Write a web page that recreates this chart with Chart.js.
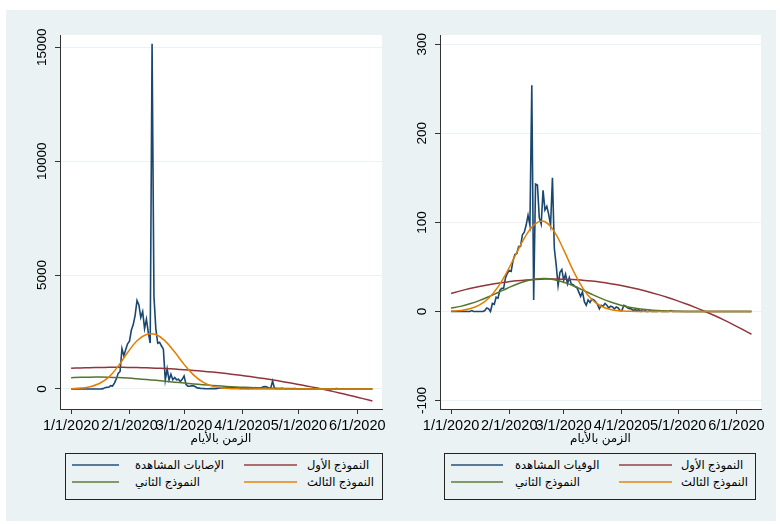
<!DOCTYPE html>
<html>
<head>
<meta charset="utf-8">
<script src="https://cdn.jsdelivr.net/npm/chart.js@4.4.1/dist/chart.umd.min.js"></script>
<style>
  body { margin: 0; width: 780px; height: 524px; background: #fff; position: relative; overflow: hidden;
         font-family: 'Liberation Sans', 'DejaVu Sans', sans-serif; }
  #bg { position: absolute; left: 6px; top: 10px; width: 770px; height: 511px; background: #eaf2f3; }
  canvas { position: absolute; top: 10px; }
  #chartL { left: 6px; }
  #chartR { left: 390px; }
  .legend { position: absolute; top: 453px; height: 47px; border: 1px solid #222; box-sizing: border-box; }
  #legL { left: 65px; width: 318px; }
  #legR { left: 444px; width: 312px; }
  .key { position: absolute; height: 0; border-top: 2px solid; opacity: 0.7; }
  .txt { position: absolute; font-size: 11.5px; line-height: 14px; white-space: nowrap; color: #000; }
  .r1 .key { top: 10px; } .r1.txt { top: 4px; }
  .r2 .key { top: 27px; } .r2.txt { top: 21px; }
  #legL .c1.key { left: 6px; width: 47px; }  #legL .c1.txt { left: 69px; }
  #legL .c2.key { left: 178px; width: 53px; } #legL .c2.txt { left: 241px; }
  #legR .c1.key { left: 6px; width: 52px; }  #legR .c1.txt { left: 70px; }
  #legR .c2.key { left: 174px; width: 53px; } #legR .c2.txt { left: 236px; }
</style>
</head>
<body>
<div id="bg"></div>
<canvas id="chartL" width="384" height="440"></canvas>
<canvas id="chartR" width="384" height="440"></canvas>
<div class="legend" id="legL"></div>
<div class="legend" id="legR"></div>
<script>
// الإصابات اليومية المشاهدة (يوم 0 = 1/1/2020)
const dailyCases = [
  0, 0, 0, 0, 0, 0, 0, 0, 0, 0, 0, 0, 0, 0, 0, 0,
  4, 17, 59, 77, 77, 149, 131, 259, 444, 688, 769, 1771, 1459, 1737, 1982, 2102,
  2590, 2829, 3235, 3887, 3694, 3143, 3399, 2656, 3062, 2478, 2015, 15152, 4050, 2641, 2009, 2048,
  1886, 1749, 394, 889, 397, 648, 409, 508, 406, 433, 327, 427, 573, 202, 125, 119,
  139, 143, 99, 44, 40, 19, 24, 15, 8, 11, 20, 16, 21, 13, 34, 39,
  41, 46, 39, 78, 47, 67, 55, 54, 45, 31, 48, 36, 35, 31, 19, 30,
  39, 32, 62, 42, 42, 46, 99, 108, 89, 46, 36, 352, 27, 16, 12, 11,
  30, 10, 6, 12, 11, 3, 6, 22, 4, 12, 2, 1, 3, 2, 1, 2,
  2, 1, 1, 17, 14, 7, 3, 5, 8, 3, 6, 4, 5, 16, 8, 2,
  11, 6, 3, 11, 4, 3, 5, 2, 8, 5, 7, 6, 7, 4, 6, 5,
  3
];
// الوفيات اليومية المشاهدة
const dailyDeaths = [
  0, 0, 0, 0, 0, 0, 0, 0, 0, 0, 0, 1, 0, 0, 0, 0,
  0, 0, 1, 4, 3, 0, 9, 8, 16, 15, 24, 26, 26, 38, 43, 46,
  45, 57, 64, 65, 73, 73, 86, 89, 97, 108, 97, 254, 13, 143, 142, 105,
  98, 136, 114, 118, 109, 97, 150, 71, 52, 29, 44, 47, 35, 42, 31, 38,
  31, 30, 28, 27, 22, 17, 22, 11, 7, 13, 10, 14, 13, 11, 8, 3,
  7, 6, 9, 7, 4, 6, 5, 3, 5, 4, 1, 1, 7, 6, 4, 3,
  3, 1, 2, 1, 2, 0, 2, 2, 0, 0, 1, 0, 0, 0, 0, 1,
  0, 0, 0, 0, 0, 1, 0, 0, 0, 0, 0, 0, 0, 0, 0, 0,
  0, 0, 0, 0, 0, 0, 0, 0, 0, 0, 0, 0, 0, 0, 0, 0,
  0, 0, 0, 0, 0, 0, 0, 0, 0, 0, 0, 0, 0, 0, 0, 0,
  0
];

// أيام قيم النماذج
const modelDays = [0, 5, 10, 15, 20, 25, 30, 35, 40, 45, 50, 55, 60, 65, 70, 75, 80,
  85, 90, 95, 100, 105, 110, 115, 120, 125, 130, 135, 140, 145, 150, 155, 160];

const casesModel1 = [908, 925, 938, 946, 951, 952, 949, 942, 931, 916, 897, 874, 847, 816, 781, 742, 699,
  652, 601, 546, 487, 425, 358, 287, 212, 134, 51, -36, -127, -221, -320, -423, -529];
const casesModel2 = [496, 513, 521, 522, 515, 500, 478, 449, 416, 380, 341, 301, 262, 224, 189, 157, 128,
  103, 82, 64, 49, 37, 28, 20, 15, 10, 7, 5, 3, 2, 1, 1, 0];
const casesModel3 = [15, 40, 100, 240, 520, 1000, 1600, 2120, 2390, 2390, 2100, 1620, 1080, 620, 300, 125, 45,
  15, 5, 1, 0, 0, 0, 0, 0, 0, 0, 0, 0, 0, 0, 0, 0];

const deathsModel1 = [20.2, 23.1, 25.7, 28.0, 30.0, 31.8, 33.2, 34.5, 35.4, 36.0, 36.4, 36.5, 36.3, 35.9, 35.1, 34.1, 32.8,
  31.2, 29.4, 27.3, 24.9, 22.2, 19.2, 16.0, 12.5, 8.7, 4.6, 0.3, -4.3, -9.2, -14.4, -19.9, -25.6];
const deathsModel2 = [3.7, 5.7, 8.6, 12.2, 16.5, 21.3, 26.1, 30.6, 34.2, 36.4, 37.0, 35.7, 32.9, 28.9, 24.2, 19.3, 14.7,
  10.6, 7.3, 4.8, 3.0, 1.8, 1.0, 0.6, 0.3, 0.1, 0.1, 0, 0, 0, 0, 0, 0];
const deathsModel3 = [0.4, 1.1, 3.0, 7.1, 14.9, 27.6, 45.3, 66.2, 85.8, 98.7, 100.8, 89.6, 69.1, 46.2, 26.8, 13.4, 5.9,
  2.2, 0.7, 0.2, 0, 0, 0, 0, 0, 0, 0, 0, 0, 0, 0, 0, 0];

const monthTicks = [0, 31, 60, 91, 121, 152];
const monthLabels = ['1/1/2020', '2/1/2020', '3/1/2020', '4/1/2020', '5/1/2020', '6/1/2020'];
const casesYTicks = [0, 5000, 10000, 15000];
const deathsYTicks = [-100, 0, 100, 200, 300];

const casesLabels = ['الإصابات المشاهدة', 'النموذج الأول', 'النموذج الثاني', 'النموذج الثالث'];
const deathsLabels = ['الوفيات المشاهدة', 'النموذج الأول', 'النموذج الثاني', 'النموذج الثالث'];
const xTitle = 'الزمن بالأيام';

const colors = ['#1a476f', '#90353b', '#55752f', '#e37e00'];
const fontFamily = "'Liberation Sans', 'DejaVu Sans', sans-serif";

// خلفية بيضاء لمنطقة الرسم
const plotBg = {
  id: 'plotBg',
  beforeDraw(chart) {
    const a = chart.chartArea;
    chart.ctx.save();
    chart.ctx.fillStyle = '#fff';
    chart.ctx.fillRect(a.left, a.top, a.right - a.left, a.bottom - a.top);
    chart.ctx.restore();
  }
};

// تسميات المحور الرأسي مدورة كما في Stata
const yTickText = {
  id: 'yTickText',
  afterDraw(chart) {
    const s = chart.scales.y;
    const ctx = chart.ctx;
    ctx.save();
    ctx.fillStyle = '#000';
    ctx.font = '13.5px ' + fontFamily;
    ctx.textAlign = 'center';
    ctx.textBaseline = 'middle';
    s.ticks.forEach(t => {
      ctx.save();
      ctx.translate(s.right - 18, s.getPixelForValue(t.value));
      ctx.rotate(-Math.PI / 2);
      ctx.fillText(String(t.value), 0, 0);
      ctx.restore();
    });
    ctx.restore();
  }
};

function toPoints(xs, ys) {
  return ys.map((y, i) => ({ x: xs[i], y: y }));
}

function makeChart(id, observed, models, labels, yTicks, yMin, yMax, yWidth, padRight) {
  const days = observed.map((_, i) => i);
  const datasets = [
    { label: labels[0], data: toPoints(days, observed), borderColor: colors[0], borderWidth: 1.6, tension: 0, order: 4 },
    { label: labels[1], data: toPoints(modelDays, models[0]), borderColor: colors[1], borderWidth: 1.5, tension: 0.4, order: 3 },
    { label: labels[2], data: toPoints(modelDays, models[1]), borderColor: colors[2], borderWidth: 1.5, tension: 0.4, order: 2 },
    { label: labels[3], data: toPoints(modelDays, models[2]), borderColor: colors[3], borderWidth: 1.5, tension: 0.4, order: 1 }
  ];
  return new Chart(document.getElementById(id), {
    type: 'line',
    data: { datasets: datasets },
    options: {
      responsive: false,
      animation: false,
      parsing: false,
      elements: { point: { radius: 0 } },
      layout: { padding: { top: 25, right: padRight, left: 0, bottom: 0 } },
      plugins: { legend: { display: false }, tooltip: { enabled: false } },
      scales: {
        x: {
          type: 'linear',
          min: -5.9,
          max: 165.1,
          afterBuildTicks: s => { s.ticks = monthTicks.map(v => ({ value: v })); },
          afterFit: s => { s.height = 41; },
          grid: { drawOnChartArea: false, drawTicks: true, tickLength: 5, tickColor: '#333' },
          border: { display: true, color: '#333', width: 1 },
          ticks: {
            autoSkip: false, maxRotation: 0, minRotation: 0, padding: 3, color: '#000',
            font: { size: 14.5, family: fontFamily },
            callback: (v, i) => monthLabels[i]
          },
          title: { display: true, text: xTitle, color: '#000', font: { size: 12, family: fontFamily }, padding: { top: 0, bottom: 4 } }
        },
        y: {
          type: 'linear',
          min: yMin,
          max: yMax,
          afterBuildTicks: s => { s.ticks = yTicks.map(v => ({ value: v })); },
          afterFit: s => { s.width = yWidth; },
          grid: { color: '#eaf2f3', lineWidth: 1, drawTicks: true, tickLength: 5, tickColor: '#333' },
          border: { display: true, color: '#333', width: 1 },
          ticks: { display: false }
        }
      }
    },
    plugins: [plotBg, yTickText]
  });
}

function makeLegend(id, labels) {
  const box = document.getElementById(id);
  labels.forEach((lab, i) => {
    const row = i < 2 ? 'r1' : 'r2';
    const col = i % 2 === 0 ? 'c1' : 'c2';
    const wrap = document.createElement('div');
    wrap.className = row;
    const key = document.createElement('div');
    key.className = 'key ' + col;
    key.style.borderTopColor = colors[i];
    const txt = document.createElement('div');
    txt.className = 'txt ' + row + ' ' + col;
    txt.textContent = lab;
    wrap.appendChild(key);
    box.appendChild(wrap);
    box.appendChild(txt);
  });
}

makeChart('chartL', dailyCases, [casesModel1, casesModel2, casesModel3], casesLabels, casesYTicks, -878, 15540, 54, 8);
makeChart('chartR', dailyDeaths, [deathsModel1, deathsModel2, deathsModel3], deathsLabels, deathsYTicks, -109.5, 310.4, 50, 13);
makeLegend('legL', casesLabels);
makeLegend('legR', deathsLabels);
</script>
</body>
</html>
